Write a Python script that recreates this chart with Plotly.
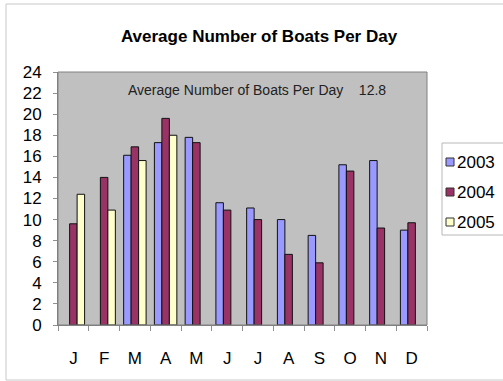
import plotly.graph_objects as go

# Monthly averages of boats per day
months = ["J", "F", "M", "A", "M", "J", "J", "A", "S", "O", "N", "D"]
boats_2003 = [None, None, 16.1, 17.3, 17.8, 11.6, 11.1, 10.0, 8.5, 15.2, 15.6, 9.0]
boats_2004 = [9.6, 14.0, 16.9, 19.6, 17.3, 10.9, 10.0, 6.7, 5.9, 14.6, 9.2, 9.7]
boats_2005 = [12.4, 10.9, 15.6, 18.0, None, None, None, None, None, None, None, None]
overall_average = 12.8

W, H = 503, 381
ML, MR, MT, MB = 58, 76, 72, 56
PW, PH = W - ML - MR, H - MT - MB

FONT = "Liberation Sans, Arial, sans-serif"
x_pos = list(range(len(months)))

series = [
    ("2003", boats_2003, "#9999FF"),
    ("2004", boats_2004, "#993366"),
    ("2005", boats_2005, "#FFFFCC"),
]

fig = go.Figure()
for name, vals, color in series:
    fig.add_trace(go.Bar(
        x=x_pos, y=vals, name=name, showlegend=False,
        marker=dict(color=color, line=dict(color="#111111", width=1)),
    ))

def px_to_paper_x(px):
    return (px - ML) / PW

def px_to_paper_y(py):
    return (H - MB - py) / PH

shapes = [
    # plot-area frame
    dict(type="rect", xref="paper", yref="paper", x0=0, x1=1, y0=0, y1=1,
         line=dict(color="#808080", width=1), layer="above"),
    # chart-area frame
    dict(type="rect", xref="paper", yref="paper",
         x0=px_to_paper_x(6), x1=px_to_paper_x(504),
         y0=px_to_paper_y(380), y1=px_to_paper_y(4),
         line=dict(color="#C8C8C8", width=1), layer="below"),
    # legend box
    dict(type="rect", xref="paper", yref="paper",
         x0=px_to_paper_x(442), x1=px_to_paper_x(510),
         y0=px_to_paper_y(235), y1=px_to_paper_y(143),
         line=dict(color="#B8B8B8", width=1), fillcolor="white"),
]

annotations = [
    dict(text=f"Average Number of Boats Per Day    {overall_average}",
         xref="paper", yref="paper",
         x=px_to_paper_x(257), y=px_to_paper_y(90),
         xanchor="center", yanchor="middle", showarrow=False,
         font=dict(size=14, family=FONT, color="#222222")),
]

# legend entries: swatch + series name
legend_top, legend_step = 162, 30
for i, (name, _, color) in enumerate(series):
    cy = legend_top + i * legend_step
    shapes.append(dict(
        type="rect", xref="paper", yref="paper",
        x0=px_to_paper_x(446), x1=px_to_paper_x(454),
        y0=px_to_paper_y(cy + 4), y1=px_to_paper_y(cy - 4),
        fillcolor=color, line=dict(color="#333333", width=1),
    ))
    annotations.append(dict(
        text=name, xref="paper", yref="paper",
        x=px_to_paper_x(455), y=px_to_paper_y(cy),
        xanchor="left", yanchor="middle", showarrow=False,
        font=dict(size=17, family=FONT, color="black"),
    ))

fig.update_layout(
    width=W, height=H,
    margin=dict(l=ML, r=MR, t=MT, b=MB, autoexpand=False),
    paper_bgcolor="white",
    plot_bgcolor="#C0C0C0",
    barmode="group",
    bargap=0.27,
    bargroupgap=0,
    showlegend=False,
    font=dict(family=FONT, color="black"),
    title=dict(
        text="<b>Average Number of Boats Per Day</b>",
        font=dict(size=17, family=FONT, color="black"),
        x=0.515, xanchor="center",
        y=1 - 36 / H, yanchor="middle",
    ),
    xaxis=dict(
        range=[-0.5, len(months) - 0.5],
        tickmode="array", tickvals=x_pos, ticktext=months,
        ticks="", showgrid=False, zeroline=False,
        showline=True, linecolor="#808080", linewidth=1,
        tickfont=dict(size=17, family=FONT),
        ticklabelstandoff=18,
        minor=dict(tickmode="array",
                   tickvals=[i - 0.5 for i in range(len(months) + 1)],
                   ticks="outside", ticklen=5, tickcolor="#909090",
                   showgrid=False),
        fixedrange=True,
    ),
    yaxis=dict(
        range=[0, 24], dtick=2, tick0=0,
        ticks="outside", ticklen=4, tickcolor="#909090",
        showgrid=False, zeroline=False,
        showline=True, linecolor="#808080", linewidth=1,
        tickfont=dict(size=17, family=FONT),
        ticklabelstandoff=8,
        fixedrange=True,
    ),
    shapes=shapes,
    annotations=annotations,
)

fig.write_html("out.html")
